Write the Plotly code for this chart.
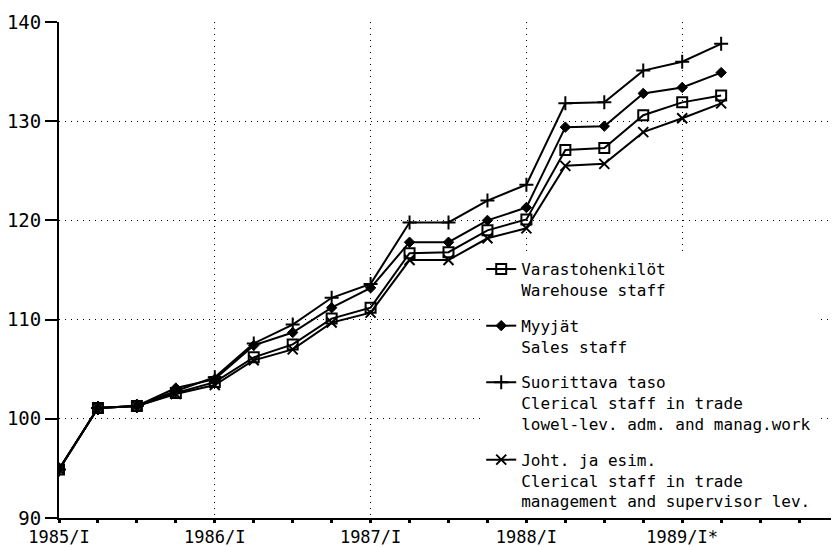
# =========================
# Dependencies
# =========================

import plotly.graph_objects as go

# =========================
# Data
# =========================

periods = [
    '1985/I', '1985/II', '1985/III', '1985/IV',
    '1986/I', '1986/II', '1986/III', '1986/IV',
    '1987/I', '1987/II', '1987/III', '1987/IV',
    '1988/I', '1988/II', '1988/III', '1988/IV',
    '1989/I', '1989/II',
]

warehouse = [94.9, 101.1, 101.3, 102.6, 103.7, 106.2, 107.5, 110.1, 111.2,
             116.7, 116.8, 119.0, 120.1, 127.1, 127.3, 130.6, 131.9, 132.6]
sales = [94.9, 101.1, 101.3, 103.1, 104.0, 107.4, 108.7, 111.2, 113.2,
         117.8, 117.8, 120.0, 121.3, 129.4, 129.5, 132.8, 133.4, 134.9]
clerical_low = [94.9, 101.1, 101.3, 102.8, 104.2, 107.6, 109.5, 112.2, 113.6,
                119.8, 119.8, 122.0, 123.6, 131.8, 131.9, 135.1, 136.0, 137.8]
clerical_mgmt = [94.9, 101.1, 101.3, 102.5, 103.4, 105.9, 107.0, 109.7, 110.7,
                 116.0, 116.0, 118.2, 119.2, 125.5, 125.7, 128.9, 130.3, 131.8]

year_ticks = [1985, 1986, 1987, 1988, 1989, 1990]
year_labels = ['1985/I', '1986/I', '1987/I', '1988/I', '1989/I*', '']

# =========================
# Helpers
# =========================

ROMAN = {'I': 0, 'II': 1, 'III': 2, 'IV': 3}

def to_x(label):
    year, q = label.split('/')
    return int(year) + ROMAN[q] / 4

xs = [to_x(p) for p in periods]

FONT = 'DejaVu Sans Mono'

# -------------------------

series = [
    ('Varastohenkilöt<br>Warehouse staff', warehouse,
     dict(symbol='square-open', size=10, color='black', line=dict(color='black', width=2))),
    ('Myyjät<br>Sales staff', sales,
     dict(symbol='diamond', size=8, color='black', line=dict(color='black', width=1))),
    ('Suorittava taso<br>Clerical staff in trade<br>lowel-lev. adm. and manag.work', clerical_low,
     dict(symbol='cross-thin', size=10, color='black', line=dict(color='black', width=2))),
    ('Joht. ja esim.<br>Clerical staff in trade<br>management and supervisor lev.', clerical_mgmt,
     dict(symbol='x-thin', size=10, color='black', line=dict(color='black', width=2))),
]

fig = go.Figure()

for i, (name, ys, marker) in enumerate(series):
    fig.add_trace(go.Scatter(
        x=xs,
        y=ys,
        name=name,
        legendgroup=f'g{i}',
        mode='lines+markers',
        line=dict(color='black', width=2),
        marker=marker,
    ))

# page body has an 8px margin, so the figure is sized/offset for it
fig.update_layout(
    width=831,
    height=539,
    margin=dict(l=51, r=1, t=14, b=29),
    paper_bgcolor='white',
    plot_bgcolor='white',
    font=dict(family=FONT, color='black', size=16),
    legend=dict(
        x=0.542,
        y=0.536,
        xanchor='left',
        yanchor='top',
        bgcolor='white',
        borderwidth=0,
        valign='top',
        tracegroupgap=12,
        font=dict(family=FONT, size=16, color='black'),
    ),
    xaxis=dict(
        range=[1985, 1990],
        tickvals=year_ticks,
        ticktext=year_labels,
        showgrid=True,
        gridcolor='black',
        gridwidth=1,
        griddash='1px,5px',
        showline=True,
        linecolor='black',
        linewidth=2,
        ticks='outside',
        ticklen=3,
        tickwidth=2,
        tickcolor='black',
        tickfont=dict(family=FONT, size=17),
        minor=dict(dtick=0.25, ticks='outside', ticklen=3, tickwidth=3, tickcolor='black', showgrid=False),
        zeroline=False,
        automargin=False,
    ),
    yaxis=dict(
        range=[90, 140],
        dtick=10,
        showgrid=True,
        gridcolor='black',
        gridwidth=1,
        griddash='1px,5px',
        showline=True,
        linecolor='black',
        linewidth=2,
        ticks='outside',
        ticklen=12,
        tickwidth=2,
        tickcolor='black',
        tickfont=dict(family=FONT, size=19),
        zeroline=False,
        automargin=False,
    ),
)

fig.write_html('out.html')
